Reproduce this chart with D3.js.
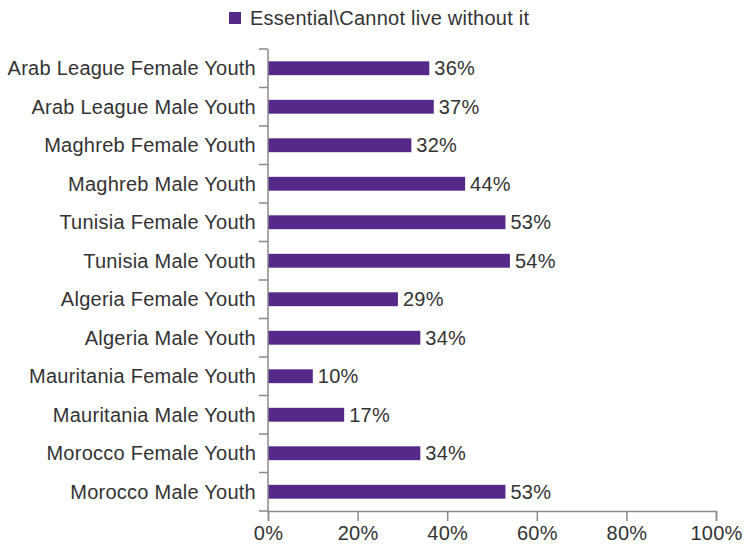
<!DOCTYPE html>
<html><head><meta charset="utf-8">
<script src="https://cdn.jsdelivr.net/npm/d3@7"></script>
<style>body{margin:0;background:#fff;} svg{display:block;font-family:"Liberation Sans",Arial,sans-serif;} text{letter-spacing:0.25px;}</style>
</head><body>
<script>
const categories = ["Arab League Female Youth","Arab League Male Youth","Maghreb Female Youth","Maghreb Male Youth","Tunisia Female Youth","Tunisia Male Youth","Algeria Female Youth","Algeria Male Youth","Mauritania Female Youth","Mauritania Male Youth","Morocco Female Youth","Morocco Male Youth"];
const values = [36,37,32,44,53,54,29,34,10,17,34,53];
const seriesName = "Essential\\Cannot live without it";
const xTicks = [0,20,40,60,80,100];

const W=754,H=546;
const svg=d3.select("body").append("svg").attr("width",W).attr("height",H);
const x=d3.scaleLinear().domain([0,100]).range([268,716]);
const y=d3.scaleBand().domain(categories).range([49,511]).paddingInner(0.64).paddingOuter(0.32);
const txt="#333", ax="#8a8a8a", col="#55298a", fs=20;

// bars
svg.selectAll("rect.bar").data(values).join("rect").attr("class","bar")
 .attr("x",x(0)).attr("y",(d,i)=>y(categories[i])).attr("width",d=>x(d)-x(0)).attr("height",y.bandwidth()).attr("fill",col);
// value labels
svg.selectAll("text.val").data(values).join("text").attr("class","val")
 .attr("x",d=>x(d)+5).attr("y",(d,i)=>y(categories[i])+y.bandwidth()/2).attr("dy","0.36em")
 .attr("font-size",fs).attr("fill",txt).text(d=>d+"%");
// category labels
svg.selectAll("text.cat").data(categories).join("text").attr("class","cat")
 .attr("x",256).attr("y",d=>y(d)+y.bandwidth()/2).attr("dy","0.36em").attr("text-anchor","end")
 .attr("font-size",fs).attr("fill",txt).text(d=>d);
// y axis line and ticks at band boundaries
const step=y.step();
const bounds=d3.range(categories.length+1).map(i=>y.range()[0]+i*step);
svg.append("line").attr("x1",x(0)).attr("x2",x(0)).attr("y1",bounds[0]).attr("y2",bounds[bounds.length-1]).attr("stroke",ax).attr("stroke-width",1.5);
svg.selectAll("line.yt").data(bounds).join("line").attr("class","yt")
 .attr("x1",x(0)-9).attr("x2",x(0)).attr("y1",d=>d).attr("y2",d=>d).attr("stroke",ax).attr("stroke-width",1.5);
// x axis
const xa=svg.append("g").attr("transform",`translate(0,${bounds[bounds.length-1]})`)
 .call(d3.axisBottom(x).tickValues(xTicks).tickFormat(d=>d+"%").tickSize(10).tickPadding(5));
xa.select(".domain").attr("stroke",ax).attr("stroke-width",1.5);
xa.selectAll(".tick line").attr("stroke",ax).attr("stroke-width",1.5);
xa.selectAll(".tick text").attr("font-size",fs).attr("fill",txt).attr("font-family","Liberation Sans, Arial, sans-serif");
// legend
svg.append("rect").attr("x",229).attr("y",12).attr("width",12).attr("height",12).attr("fill",col);
svg.append("text").attr("x",250).attr("y",18).attr("dy","0.36em").attr("font-size",fs).attr("fill",txt).text(seriesName);
</script>
</body></html>
